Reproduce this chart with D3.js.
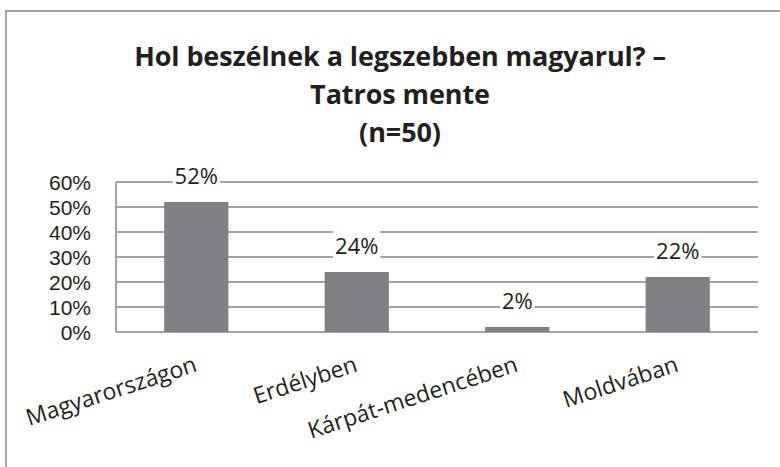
<!DOCTYPE html>
<style>
body { margin: 0; background: #fff; }
text { font-family: "Open Sans", sans-serif; fill: #231f20; }
.title { font-weight: bold; }
.ytick { font-family: "Liberation Sans", Arial, sans-serif; }
</style>

<script src="https://d3js.org/d3.v7.min.js"></script>

<body>
<script>

var categories = ["Magyarországon", "Erdélyben", "Kárpát-medencében", "Moldvában"];
var values = [0.52, 0.24, 0.02, 0.22];
var ticks = [0, 0.1, 0.2, 0.3, 0.4, 0.5, 0.6];
var titleLines = ["Hol beszélnek a legszebben magyarul? –", "Tatros mente", "(n=50)"];

var width = 780,
    height = 467;

var svg = d3.select("body").append("svg")
    .attr("width", width)
    .attr("height", height);

// outer frame (only top and left edges visible)
svg.append("path")
    .attr("d", "M6,467V11H780")
    .attr("fill", "none")
    .attr("stroke", "#a3a3a3")
    .attr("stroke-width", 2);

svg.selectAll(".title")
  .data(titleLines)
  .enter().append("text")
    .attr("class", "title")
    .attr("x", 400)
    .attr("y", function(d, i) { return 66 + i * 38; })
    .attr("text-anchor", "middle")
    .attr("font-size", 27)
    .attr("letter-spacing", -0.1)
    .text(function(d) { return d; });

var x = d3.scaleBand()
    .domain(categories)
    .range([116, 758])
    .paddingInner(0.6)
    .paddingOuter(0.3);

var y = d3.scaleLinear()
    .domain([0, 0.6])
    .range([332, 182]);

// gridlines
svg.selectAll(".grid")
  .data(ticks)
  .enter().append("line")
    .attr("x1", 116)
    .attr("x2", 758)
    .attr("y1", function(d) { return y(d); })
    .attr("y2", function(d) { return y(d); })
    .attr("stroke", "#a3a3a3")
    .attr("stroke-width", 2);

svg.append("line")
    .attr("x1", 116).attr("x2", 116)
    .attr("y1", y(0.6)).attr("y2", y(0))
    .attr("stroke", "#a3a3a3")
    .attr("stroke-width", 2);

// y tick labels
svg.selectAll(".ytick")
  .data(ticks)
  .enter().append("text")
    .attr("class", "ytick")
    .attr("x", 91)
    .attr("y", function(d) { return y(d); })
    .attr("dy", "0.36em")
    .attr("text-anchor", "end")
    .attr("font-size", 21)
    .text(d3.format(".0%"));

// bars
svg.selectAll(".bar")
  .data(values)
  .enter().append("rect")
    .attr("x", function(d, i) { return x(categories[i]); })
    .attr("y", function(d) { return y(d); })
    .attr("width", x.bandwidth())
    .attr("height", function(d) { return y(0) - y(d); })
    .attr("fill", "#808184");

// value labels with white knockout
var lab = svg.selectAll(".lab")
  .data(values)
  .enter().append("g")
    .attr("transform", function(d, i) {
      return "translate(" + (x(categories[i]) + x.bandwidth() / 2) + "," + (y(d) - 18) + ")";
    });

lab.append("text")
    .attr("text-anchor", "middle")
    .attr("font-size", 22)
    .text(d3.format(".0%"));

lab.insert("rect", "text")
    .each(function() {
      var b = this.parentNode.querySelector("text").getBBox();
      d3.select(this)
        .attr("x", b.x - 2)
        .attr("y", b.y)
        .attr("width", b.width + 4)
        .attr("height", b.height)
        .attr("fill", "#fff");
    });

// category labels
svg.selectAll(".cat")
  .data(categories)
  .enter().append("text")
    .attr("transform", function(d) {
      return "translate(" + (x(d) + x.bandwidth() / 2 + 2) + ",371) rotate(-18)";
    })
    .attr("text-anchor", "end")
    .attr("font-size", 23)
    .text(function(d) { return d; });

</script>
